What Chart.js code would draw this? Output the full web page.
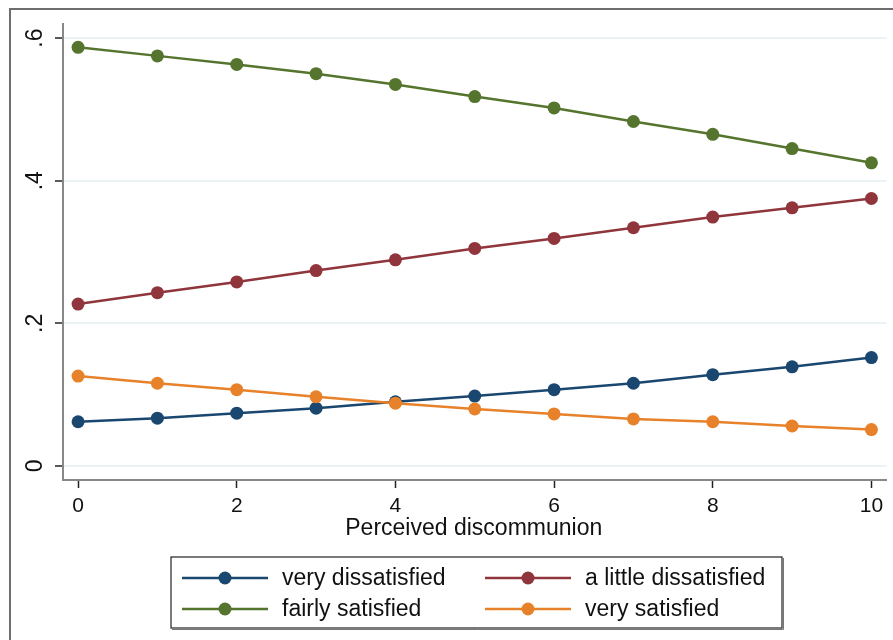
<!DOCTYPE html>
<html>
<head>
<meta charset="utf-8">
<script src="https://cdn.jsdelivr.net/npm/chart.js@4"></script>
<style>
  html, body { margin: 0; padding: 0; background: #fff; }
  #wrap { width: 893px; height: 640px; position: relative; overflow: hidden; }
</style>
</head>
<body>
<div id="wrap"><canvas id="chart" width="893" height="640"></canvas></div>
<script>
const xValues = [0, 1, 2, 3, 4, 5, 6, 7, 8, 9, 10];
const veryDissatisfied = [0.062, 0.067, 0.074, 0.081, 0.090, 0.098, 0.107, 0.116, 0.128, 0.139, 0.152];
const littleDissatisfied = [0.227, 0.243, 0.258, 0.274, 0.289, 0.305, 0.319, 0.334, 0.349, 0.362, 0.375];
const fairlySatisfied = [0.587, 0.575, 0.563, 0.550, 0.535, 0.518, 0.502, 0.483, 0.465, 0.445, 0.425];
const verySatisfied = [0.126, 0.116, 0.107, 0.097, 0.088, 0.080, 0.073, 0.066, 0.062, 0.056, 0.051];
const seriesLabels = ["very dissatisfied", "a little dissatisfied", "fairly satisfied", "very satisfied"];
const xTicks = [0, 2, 4, 6, 8, 10];
const yTicks = [0, 0.2, 0.4, 0.6];
const yTickLabels = ["0", ".2", ".4", ".6"];
const xTitle = "Perceived discommunion";

const colors = ["#1a476f", "#90353b", "#55752f", "#e8822a"];
const FONT = "Liberation Sans, Arial, sans-serif";

function makeSet(label, values, color, order) {
  return {
    label: label,
    data: values.map((v, i) => ({ x: xValues[i], y: v })),
    borderColor: color,
    backgroundColor: color,
    pointBackgroundColor: color,
    pointBorderColor: color,
    pointRadius: 6.5,
    pointBorderWidth: 0,
    borderWidth: 2.5,
    tension: 0,
    order: order,
  };
}

// extra drawing: frame, rotated y labels, x title, legend
const extras = {
  id: "extras",
  afterDraw(chart) {
    const ctx = chart.ctx;
    const yScale = chart.scales.y;
    ctx.save();
    // outer frame
    ctx.strokeStyle = "#6e6e6e";
    ctx.lineWidth = 2;
    ctx.strokeRect(10, 9, 1000, 1000);

    // y tick labels, rotated
    ctx.fillStyle = "#111";
    ctx.font = "23px " + FONT;
    ctx.textAlign = "center";
    ctx.textBaseline = "middle";
    yTicks.forEach((v, i) => {
      const py = yScale.getPixelForValue(v);
      ctx.save();
      ctx.translate(36, py);
      ctx.rotate(-Math.PI / 2);
      ctx.fillText(yTickLabels[i], 0, 0);
      ctx.restore();
    });

    // x title
    const area = chart.chartArea;
    ctx.font = "23px " + FONT;
    ctx.fillText(xTitle, (area.left + area.right) / 2 - 1, 529);

    // legend
    ctx.fillStyle = "#fff";
    ctx.fillRect(171, 557, 611, 71);
    ctx.strokeStyle = "#222";
    ctx.lineWidth = 1.2;
    ctx.strokeRect(171, 557, 611, 71);
    ctx.strokeStyle = "#777";
    ctx.lineWidth = 1;
    ctx.beginPath();
    ctx.moveTo(172, 629.5);
    ctx.lineTo(783.5, 629.5);
    ctx.lineTo(783.5, 558);
    ctx.stroke();

    const cols = [182, 485];
    const rows = [578, 609];
    ctx.font = "23px " + FONT;
    ctx.textAlign = "left";
    chart.data.datasets.forEach((ds, i) => {
      const cx = cols[i % 2];
      const cy = rows[Math.floor(i / 2)];
      ctx.strokeStyle = ds.borderColor;
      ctx.lineWidth = 2.5;
      ctx.beginPath();
      ctx.moveTo(cx, cy);
      ctx.lineTo(cx + 86, cy);
      ctx.stroke();
      ctx.fillStyle = ds.borderColor;
      ctx.beginPath();
      ctx.arc(cx + 43, cy, 6.5, 0, Math.PI * 2);
      ctx.fill();
      ctx.fillStyle = "#111";
      ctx.fillText(ds.label, cx + 100, cy + 1);
    });
    ctx.restore();
  },
};

const ctx = document.getElementById("chart").getContext("2d");
const chart = new Chart(ctx, {
  type: "line",
  data: {
    datasets: [
      makeSet(seriesLabels[0], veryDissatisfied, colors[0], 4),
      makeSet(seriesLabels[1], littleDissatisfied, colors[1], 3),
      makeSet(seriesLabels[2], fairlySatisfied, colors[2], 2),
      makeSet(seriesLabels[3], verySatisfied, colors[3], 1),
    ],
  },
  options: {
    responsive: false,
    animation: false,
    devicePixelRatio: 1,
    layout: {
      padding: { left: 0, top: 24, right: 4, bottom: 0 },
    },
    plugins: {
      legend: { display: false },
      tooltip: { enabled: false },
    },
    scales: {
      x: {
        type: "linear",
        min: -0.19,
        max: 10.19,
        afterBuildTicks: (scale) => {
          scale.ticks = xTicks.map((v) => ({ value: v }));
        },
        afterFit: (scale) => {
          scale.height = 160;
        },
        grid: {
          drawOnChartArea: false,
          drawTicks: true,
          tickLength: 8,
          tickColor: "#222",
          tickWidth: 1.5,
        },
        border: { display: true, color: "#888", width: 2 },
        ticks: {
          color: "#111",
          padding: 6,
          maxRotation: 0,
          font: { size: 21, family: FONT },
          callback: (v) => String(v),
        },
      },
      y: {
        type: "linear",
        min: -0.0197,
        max: 0.6197,
        afterBuildTicks: (scale) => {
          scale.ticks = yTicks.map((v) => ({ value: v }));
        },
        afterFit: (scale) => {
          scale.width = 63;
        },
        grid: {
          color: "#eaf2f3",
          lineWidth: 2,
          drawTicks: true,
          tickLength: 8,
          tickColor: "#222",
          tickWidth: 1.5,
        },
        border: { display: true, color: "#888", width: 2 },
        ticks: { display: false },
      },
    },
  },
  plugins: [extras],
});
</script>
</body>
</html>
